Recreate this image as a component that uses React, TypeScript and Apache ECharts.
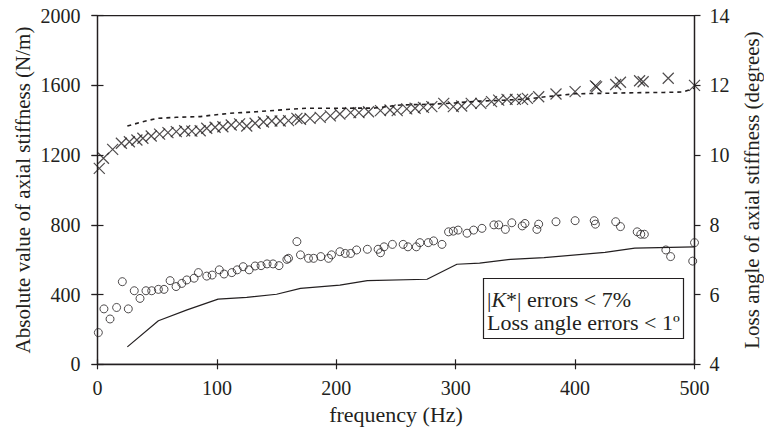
import React, { useEffect, useRef } from "react";
import * as echarts from "echarts";

// |K*| measured (× markers), left axis
const stiffFreq = [1.5, 5, 12.7, 20, 26.7, 33, 38, 45, 52, 59, 66, 73, 79, 86, 91.5, 98.5, 105, 112, 119, 125, 132, 139, 146, 153, 160, 167, 170, 178, 186.5, 195, 203, 212, 219, 227, 237, 245, 251, 259, 266, 273, 280, 290, 298, 305, 313, 321, 330, 336, 343, 350, 356, 360, 369.5, 384, 400, 417, 418, 434, 438, 454, 457, 478, 500];
const stiffValue = [1124, 1182, 1233, 1268, 1277, 1287, 1297, 1310, 1321, 1329, 1335, 1340, 1338, 1340, 1354, 1360, 1363, 1373, 1379, 1367, 1383, 1390, 1396, 1396, 1398, 1411, 1406, 1411, 1417, 1425, 1436, 1444, 1444, 1449, 1455, 1459, 1455, 1465, 1469, 1474, 1478, 1497, 1478, 1482, 1497, 1497, 1507, 1516, 1520, 1520, 1520, 1526, 1535, 1551, 1564, 1597, 1592, 1605, 1618, 1627, 1621, 1641, 1600];

// |K*| model (dashed line), left axis
const stiffModelFreq = [25, 38, 50, 66, 86, 97, 111, 133, 161, 175, 200, 232, 254, 280, 300, 320, 340, 360, 375, 400, 425, 450, 475, 490, 500];
const stiffModelValue = [1367, 1392, 1411, 1417, 1421, 1430, 1440, 1449, 1463, 1469, 1469, 1470, 1488, 1492, 1500, 1510, 1515, 1522, 1535, 1552, 1555, 1558, 1560, 1562, 1585];

// Loss angle measured (circles), right axis
const angleFreq = [0.7, 5.4, 10.5, 16, 20.8, 25.8, 30.8, 35.6, 40.6, 45.4, 51, 55.7, 60.8, 65.8, 70.6, 74.8, 80.9, 84.5, 91.5, 96, 102, 106, 112.5, 117, 122, 127, 132, 137, 142, 147, 152, 158.6, 160, 167, 170, 176.7, 181, 187, 193.5, 196, 203, 207.5, 212, 217, 226, 235, 237, 240, 247, 256, 260, 267, 270, 277, 281.5, 288.5, 294, 298, 302, 309.5, 315, 322, 332, 336, 341.6, 347, 355.7, 358, 368, 369.5, 384, 400, 416, 417, 434, 438, 452, 455, 458, 476, 480, 498.5, 500];
const angleValue = [4.91, 5.59, 5.30, 5.63, 6.37, 5.59, 6.11, 5.89, 6.11, 6.11, 6.15, 6.15, 6.40, 6.23, 6.32, 6.42, 6.47, 6.63, 6.53, 6.56, 6.71, 6.59, 6.63, 6.71, 6.80, 6.71, 6.82, 6.83, 6.88, 6.88, 6.83, 7.01, 7.04, 7.52, 7.14, 7.04, 7.04, 7.09, 7.04, 7.14, 7.23, 7.18, 7.18, 7.28, 7.30, 7.30, 7.20, 7.37, 7.44, 7.44, 7.37, 7.37, 7.49, 7.49, 7.54, 7.44, 7.80, 7.82, 7.85, 7.76, 7.85, 7.90, 8.0, 8.0, 7.87, 8.06, 7.97, 8.04, 7.87, 8.02, 8.09, 8.12, 8.12, 8.02, 8.09, 7.95, 7.80, 7.73, 7.73, 7.28, 7.09, 6.96, 7.49];

// Loss angle model (solid line), right axis
const angleModelFreq = [25, 51, 75, 101, 125, 150, 170, 203, 226, 276, 301, 320, 346, 374, 425, 450, 500];
const angleModelValue = [4.50, 5.25, 5.56, 5.87, 5.92, 6.01, 6.18, 6.27, 6.40, 6.44, 6.87, 6.90, 7.01, 7.06, 7.21, 7.33, 7.37];

const xTicks = { min: 0, max: 500, interval: 100 };
const leftTicks = { min: 0, max: 2000, interval: 400 };
const rightTicks = { min: 4, max: 14, interval: 2 };

const xTitle = "frequency (Hz)";
const leftTitle = "Absolute value of axial stiffness (N/m)";
const rightTitle = "Loss angle of axial stiffness (degrees)";
const legendLine1 = "|{k|K}*| errors < 7%";
const legendLine2 = "Loss angle errors < 1º";

const INK = "#231f20";
const FONT = "Liberation Serif";

const zip = (a: number[], b: number[]) => a.map((v, i) => [v, b[i]]);

export default function App() {
  const ref = useRef<HTMLDivElement>(null);
  useEffect(() => {
    document.body.style.margin = "0";
    if (!ref.current) return;
    const chart = echarts.init(ref.current, undefined, { renderer: "svg" });
    const label = { color: INK, fontFamily: FONT, fontSize: 20 };
    const title = { color: INK, fontFamily: FONT, fontSize: 21 };
    const fmt = (v: number) => String(v);
    const line = { show: true, onZero: false, lineStyle: { color: INK, width: 1.3 } };
    const noLabelAxis = {
      axisLine: { show: false },
      axisLabel: { show: false },
      splitLine: { show: false },
      axisTick: { show: true, inside: true, length: 5, lineStyle: { color: INK, width: 1.2 } },
    };
    chart.setOption({
      animation: false,
      backgroundColor: "#fff",
      textStyle: { fontFamily: FONT },
      grid: {
        left: 97.5,
        right: 69.5,
        top: 15.7,
        bottom: 68.7,
        outerBoundsMode: "none",
        containLabel: false,
        show: true,
        borderColor: INK,
        borderWidth: 1.2,
        backgroundColor: "transparent",
      },
      xAxis: [
        {
          type: "value",
          position: "bottom",
          ...xTicks,
          axisLine: line,
          axisTick: { show: true, length: 5, lineStyle: { color: INK, width: 1.2 } },
          axisLabel: { ...label, margin: 14, formatter: fmt },
          splitLine: { show: false },
          name: xTitle,
          nameLocation: "middle",
          nameGap: 39,
          nameMoveOverlap: false,
          nameTextStyle: { ...title, fontSize: 22, verticalAlign: "top" },
        },
        { type: "value", position: "bottom", ...xTicks, ...noLabelAxis },
      ],
      yAxis: [
        {
          type: "value",
          position: "left",
          ...leftTicks,
          axisLine: line,
          axisTick: { show: true, length: 6, lineStyle: { color: INK, width: 1.2 } },
          axisLabel: { ...label, margin: 17, formatter: fmt },
          splitLine: { show: false },
          name: leftTitle,
          nameLocation: "middle",
          nameGap: 64,
          nameMoveOverlap: false,
          nameTextStyle: title,
        },
        {
          type: "value",
          position: "right",
          ...rightTicks,
          axisLine: line,
          axisTick: { show: true, length: 6, lineStyle: { color: INK, width: 1.2 } },
          axisLabel: { ...label, margin: 15, formatter: fmt },
          splitLine: { show: false },
          name: rightTitle,
          nameLocation: "middle",
          nameGap: 47,
          nameMoveOverlap: false,
          nameTextStyle: title,
        },
        { type: "value", position: "left", ...leftTicks, ...noLabelAxis, axisTick: { ...noLabelAxis.axisTick, length: 6 } },
        { type: "value", position: "right", ...rightTicks, ...noLabelAxis, axisTick: { ...noLabelAxis.axisTick, length: 6 } },
      ],
      series: [
        {
          type: "line",
          yAxisIndex: 0,
          data: zip(stiffModelFreq, stiffModelValue),
          symbol: "none",
          lineStyle: { color: INK, width: 1.6, type: [4, 4] },
          z: 2,
        },
        {
          type: "scatter",
          yAxisIndex: 0,
          data: zip(stiffFreq, stiffValue),
          symbol: "path://M0,0L10,10M10,0L0,10",
          symbolSize: 11,
          itemStyle: { color: "none", borderColor: INK, borderWidth: 1.2 },
          z: 3,
        },
        {
          type: "line",
          yAxisIndex: 1,
          data: zip(angleModelFreq, angleModelValue),
          symbol: "none",
          lineStyle: { color: INK, width: 1.2 },
          z: 2,
        },
        {
          type: "scatter",
          yAxisIndex: 1,
          data: zip(angleFreq, angleValue),
          symbol: "circle",
          symbolSize: 8,
          itemStyle: { color: "none", borderColor: INK, borderWidth: 1 },
          z: 3,
        },
      ],
      graphic: [
        {
          type: "group",
          z: 10,
          children: [
            {
              type: "rect",
              shape: { x: 483.5, y: 278.5, width: 200, height: 60 },
              style: { fill: "#fff", stroke: INK, lineWidth: 1.2 },
            },
            {
              type: "text",
              x: 487,
              y: 299,
              style: {
                text: legendLine1,
                fill: INK,
                fontFamily: FONT,
                fontSize: 22,
                verticalAlign: "middle",
                rich: { k: { fontStyle: "italic", fontFamily: FONT, fontSize: 22, fill: INK } },
              },
            },
            {
              type: "text",
              x: 487,
              y: 322,
              style: {
                text: legendLine2,
                fill: INK,
                fontFamily: FONT,
                fontSize: 22,
                verticalAlign: "middle",
              },
            },
          ],
        },
      ],
    });
    return () => chart.dispose();
  }, []);
  return (
    <div
      ref={ref}
      style={{ width: 764, height: 433, position: "absolute", left: 0, top: 0 }}
    />
  );
}
